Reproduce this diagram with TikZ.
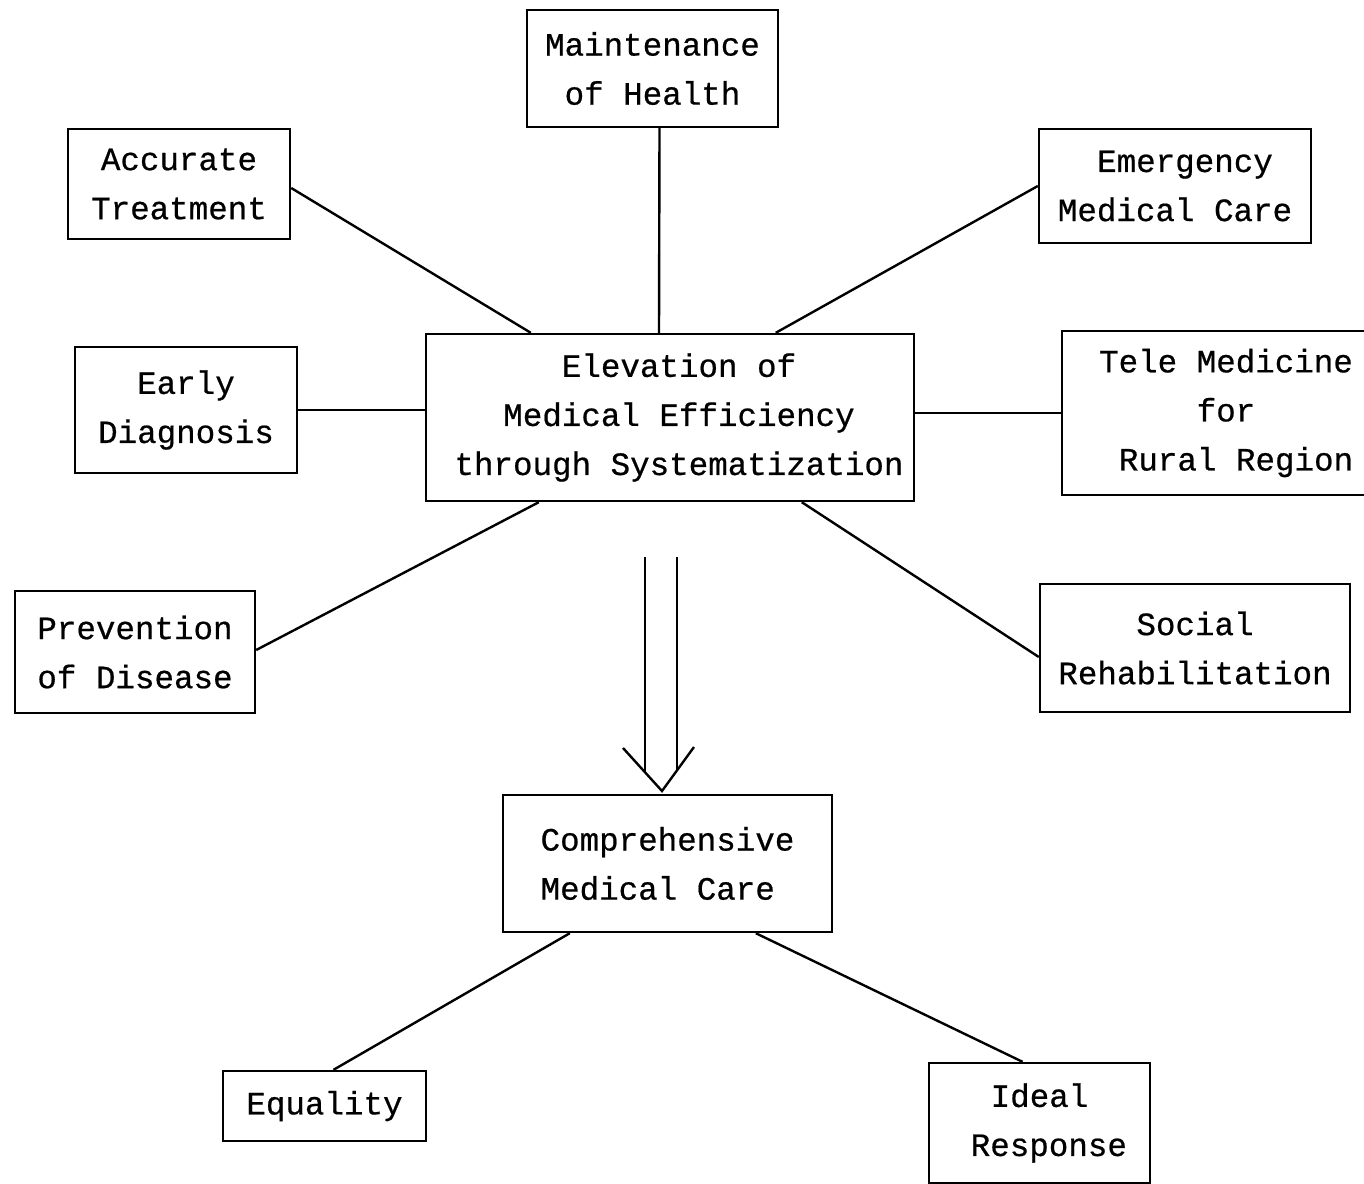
\documentclass[tikz,border=0pt]{standalone}
\usepackage{fontspec}
\newfontfamily\tw[FakeBold=0.6]{Liberation Mono}
\usetikzlibrary{calc}
\begin{document}
\begin{tikzpicture}[x=0.75pt,y=-0.75pt,
  box/.style={draw,line width=1.8pt,align=center,inner sep=0pt,
    font=\tw\fontsize{24.4}{36.8}\selectfont},
  link/.style={line width=1.8pt}]
\useasboundingbox (0,0) rectangle (1364,1184);
% outer items (sizes in pt)
\node[box,minimum width=188.25pt,minimum height=87.75pt] (mh) at (652.5,68.5) {Maintenance\\of Health};
\node[box,minimum width=166.5pt,minimum height=82.5pt] (acc) at (179,184) {Accurate\\Treatment};
\node[box,minimum width=204pt,minimum height=85.5pt] (emg) at (1175,186) {\hspace*{15pt}Emergency\\Medical Care};
\node[box,minimum width=166.5pt,minimum height=94.5pt] (ed) at (186,410) {Early\\Diagnosis};
\node[box,minimum width=366pt,minimum height=125.25pt] (cen) at (670,417.5) {\hspace*{13.5pt}Elevation of\\\hspace*{13.5pt}Medical Efficiency\\\hspace*{13.5pt}through Systematization};
\node[box,minimum width=246pt,minimum height=123pt] (tele) at (1226,413) {Tele Medicine\\for\\\hspace*{15pt}Rural Region};
\node[box,minimum width=180pt,minimum height=91.5pt] (prev) at (135,652) {Prevention\\of Disease};
\node[box,minimum width=232.5pt,minimum height=96pt] (soc) at (1195,648) {Social\\Rehabilitation};
\node[box,minimum width=246.75pt,minimum height=102.75pt,align=left] (comp) at (667.5,863.5) {Comprehensive\\Medical Care};
\node[box,minimum width=152.25pt,minimum height=52.5pt] (eq) at (324.5,1106) {Equality};
\node[box,minimum width=165.75pt,minimum height=90pt] (ir) at (1039.5,1123) {Ideal\\\hspace*{14pt}Response};
% spokes
\draw[link] ($(mh.south)+(7,0)$) -- ($(cen.north)+(-11,0)$);
\draw[link] ($(acc.east)+(0,4)$) -- ($(cen.north west)+(106,0)$);
\draw[link] (emg.west) -- ($(cen.north west)+(351,0)$);
\draw[link] (ed.east) -- (ed.east -| cen.west);
\draw[link] (cen.east |- tele.west) -- (tele.west);
\draw[link] ($(prev.east)+(0,-2)$) -- ($(cen.south west)+(114,0)$);
\draw[link] ($(soc.west)+(0,9)$) -- ($(cen.south west)+(377,0)$);
\draw[link] ($(comp.south west)+(68,0)$) -- ($(eq.north)+(9,0)$);
\draw[link] ($(comp.south west)+(254,0)$) -- ($(ir.north)+(-17,0)$);
% open double arrow
\coordinate (la) at (645,557);
\coordinate (lb) at (645,773);
\coordinate (ra) at (677,557);
\coordinate (rb) at (677,770);
\coordinate (hl) at (623,748);
\coordinate (tip) at (662,791);
\coordinate (hr) at (694,747);
\draw[link] (la) -- (lb);
\draw[link] (ra) -- (rb);
\draw[link,line join=miter] (hl) -- (tip) -- (hr);
\end{tikzpicture}
\end{document}
